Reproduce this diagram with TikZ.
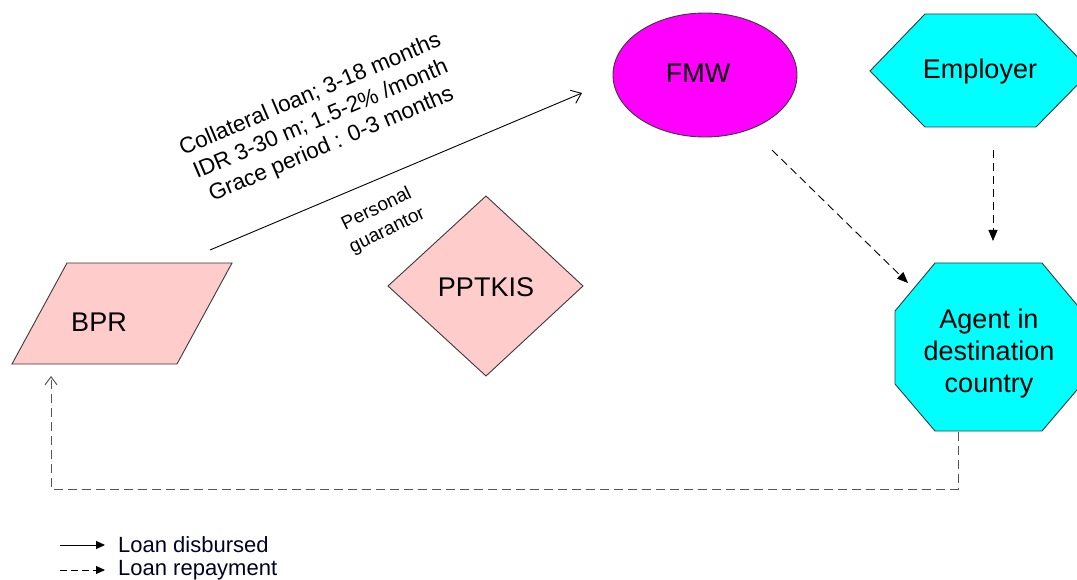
\documentclass[tikz,border=0pt]{standalone}
\usepackage{fontspec}
\setmainfont{Liberation Sans}
\usetikzlibrary{arrows.meta}
\definecolor{pinkfill}{HTML}{FFCCCC}
\definecolor{magfill}{HTML}{FF00FF}
\definecolor{cyanfill}{HTML}{00FFFF}
\definecolor{edgegray}{HTML}{3A3A3A}
\definecolor{dashgray}{HTML}{555555}
\begin{document}
\begin{tikzpicture}[x=1pt,y=-1pt,
  shapeedge/.style={draw=edgegray,line width=0.9pt},
  biglabel/.style={font=\fontsize{27}{32}\selectfont,align=center,inner sep=0pt},
  flowsolid/.style={draw=black,line width=0.9pt,-{Straight Barb[length=9pt,width=14pt]}},
  flowdash/.style={draw=black,line width=0.9pt,dash pattern=on 8pt off 5pt,-{Triangle[length=11pt,width=9pt]}},
  returndash/.style={draw=dashgray,line width=1pt,dash pattern=on 9pt off 5pt,-{Straight Barb[length=8pt,width=12pt]}},
  legendtext/.style={font=\fontsize{22}{26}\selectfont,anchor=west,inner sep=0pt,text=black!85!blue}
]
\useasboundingbox (0,0) rectangle (1077,580);

% shapes
\draw[shapeedge,fill=pinkfill] (67,263) -- (232,263) -- (177,364) -- (12,364) -- cycle;
\draw[shapeedge,fill=pinkfill] (486,196) -- (583,286) -- (486,376) -- (388,286) -- cycle;
\draw[shapeedge,fill=magfill] (705,75) ellipse [x radius=92, y radius=62];
\draw[shapeedge,fill=cyanfill] (870,71) -- (925,14) -- (1036,14) -- (1091,71) -- (1036,127) -- (925,127) -- cycle;
\draw[shapeedge,fill=cyanfill] (935,263) -- (1042,263) -- (1082,311) -- (1082,384) -- (1042,431)
  -- (935,431) -- (895,384) -- (895,311) -- cycle;

% labels
\node[biglabel] (bpr) at (99,322) {BPR};
\node[biglabel] (pptkis) at (486,287) {PPTKIS};
\node[biglabel] (fmw) at (698,73) {FMW};
\node[biglabel] (employer) at (980,72) {Employer};
\node[biglabel] (agent) at (989,354) {Agent in\\destination\\country};

\node[rotate=23,align=center,inner sep=0pt,font=\fontsize{22.5}{27}\selectfont] (terms) at (321,120)
  {Collateral loan; 3-18 months\\IDR 3-30 m; 1.5-2\% /month\\Grace period : 0-3 months};
\node[rotate=26,align=center,inner sep=0pt,font=\fontsize{19}{24}\selectfont] (guar) at (382,220)
  {Personal\\guarantor};

% connector end points
\coordinate (bprout) at (210,250);
\coordinate (fmwin) at (582,93);
\coordinate (fmwout) at (772,150);
\coordinate (agentin) at (908,283);
\coordinate (empout) at (993,150);
\coordinate (agenttop) at (993,241);
\coordinate (agentout) at (958,432);
\coordinate (bend1) at (958,489);
\coordinate (bend2) at (51,489);
\coordinate (bprin) at (51,376);

% connectors
\draw[flowsolid] (bprout) -- (fmwin);
\draw[flowdash] (fmwout) -- (agentin);
\draw[flowdash] (empout) -- (agenttop);
\draw[returndash] (agentout) -- (bend1) -- (bend2) -- (bprin);

% legend
\coordinate (l1a) at (60,545);
\coordinate (l1b) at (105,545);
\coordinate (l2a) at (60,570);
\coordinate (l2b) at (105,570);
\draw[draw=black,line width=0.9pt,-{Triangle[length=9pt,width=8pt]}] (l1a) -- (l1b);
\draw[draw=black,line width=0.9pt,dash pattern=on 7pt off 4pt,-{Triangle[length=9pt,width=8pt]}] (l2a) -- (l2b);
\node[legendtext] (leg1) at (118,545) {Loan disbursed};
\node[legendtext] (leg2) at (118,570) {Loan repayment};
\end{tikzpicture}
\end{document}
